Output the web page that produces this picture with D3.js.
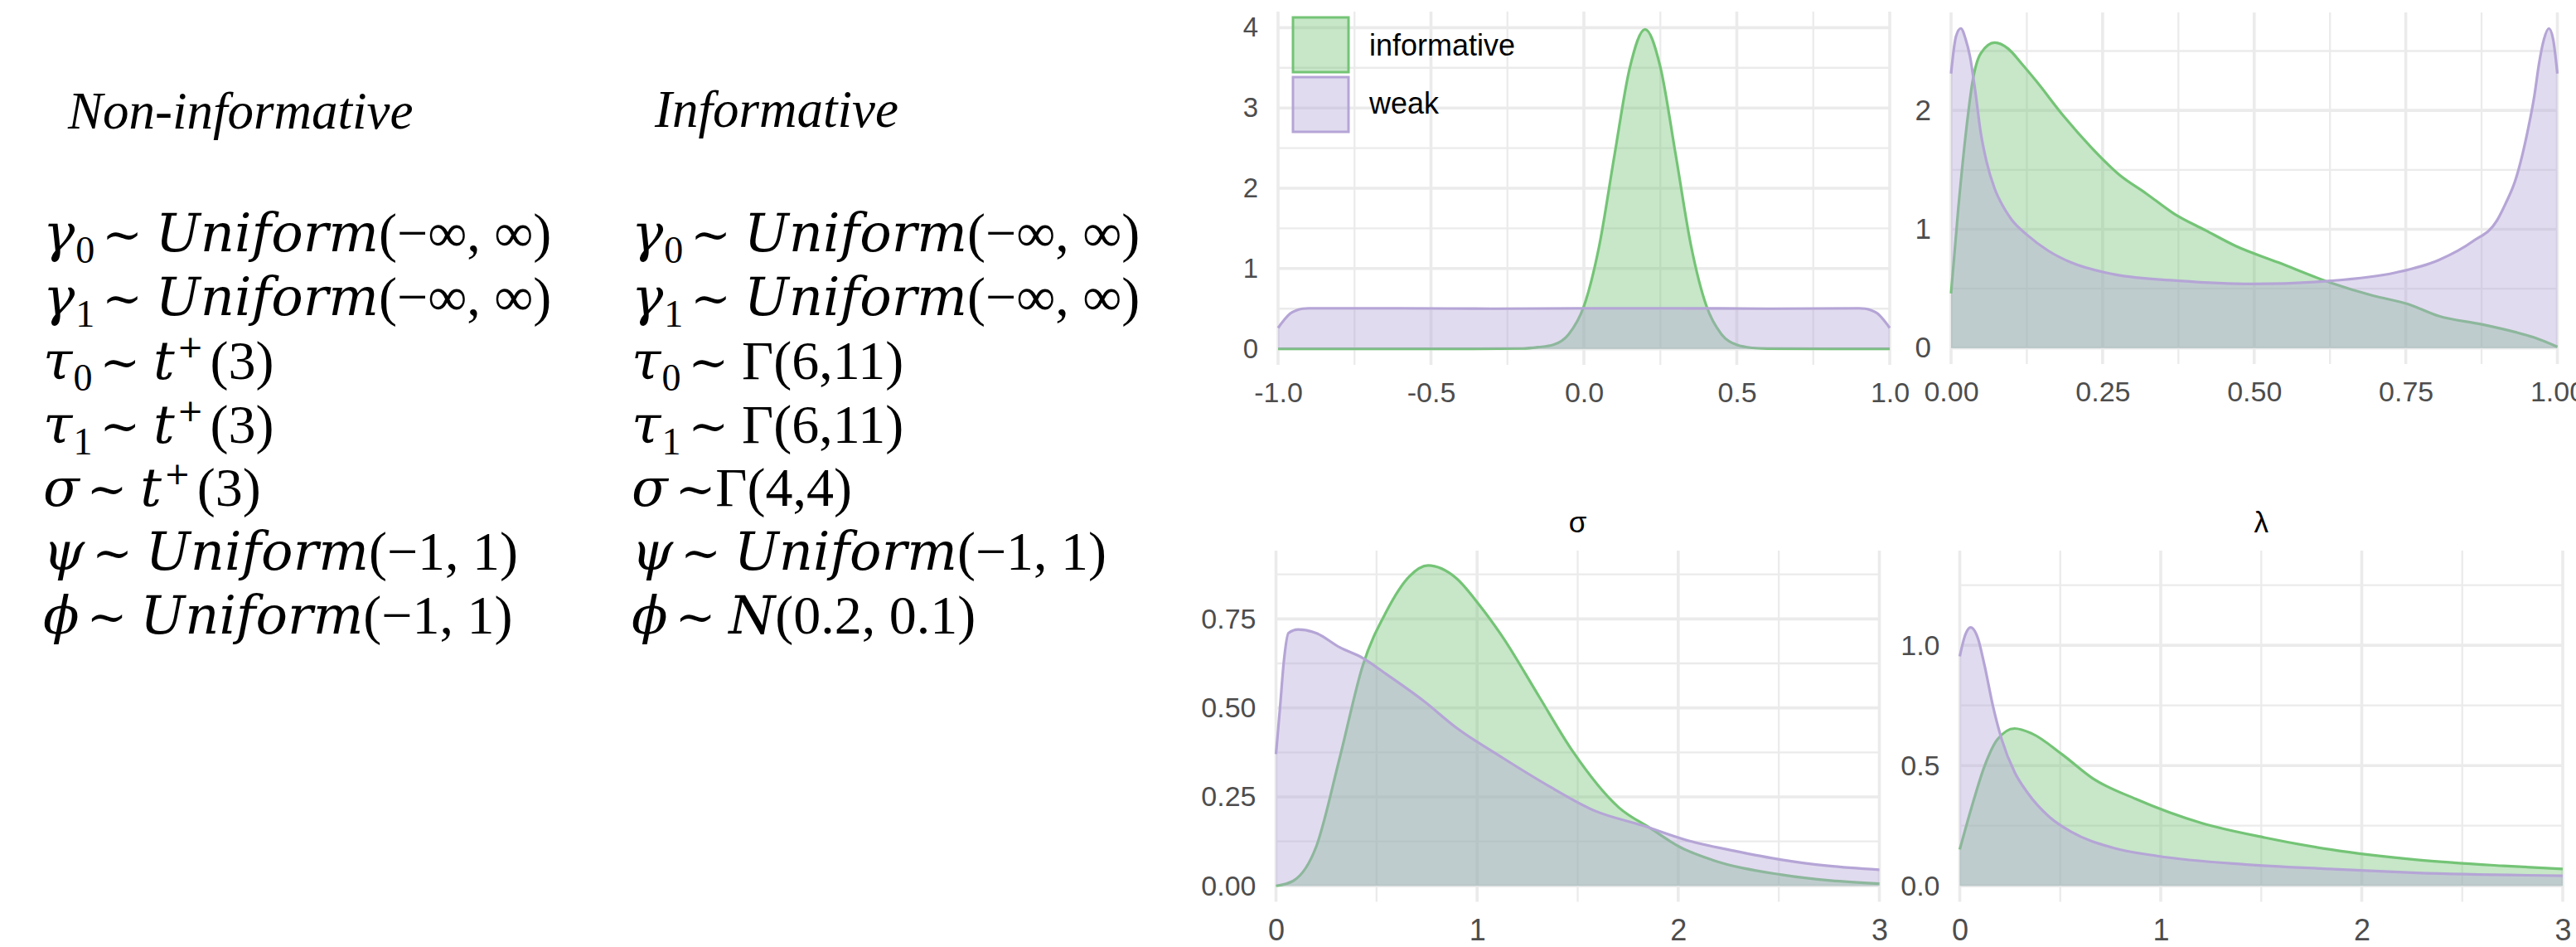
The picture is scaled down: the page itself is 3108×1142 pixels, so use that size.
<!DOCTYPE html>
<html>
<head>
<meta charset="utf-8">
<title>prior densities</title>
<script src="https://cdn.jsdelivr.net/npm/d3@7"></script>
<style>
  body {margin: 0; background: #fff;}
  svg {display: block;}
  .hd {font-family: "Liberation Serif", serif; font-style: italic; font-size: 63px;}
  .mi, .i {font-family: "DejaVu Serif", serif; font-style: italic; font-size: 64px;}
  .n {font-family: "Liberation Serif", serif; font-size: 66px;}
  .op {font-family: "DejaVu Serif", serif; font-size: 58px;}
  .sub {font-family: "Liberation Serif", serif; font-size: 46px;}
  .sup {font-family: "DejaVu Sans", sans-serif; font-size: 38px;}
  .lab {font-family: "Liberation Sans", Arial, sans-serif;}
</style>
</head>
<body>
<div id="chart"></div>
<script>
// ---- data ----
var seriesNames = ["informative", "weak"];

// top left panel (phi)
var phiInfX = [-1, -0.4, -0.2, -0.15, -0.1, -0.05, 0, 0.05, 0.1, 0.15, 0.2, 0.25, 0.3, 0.35, 0.4, 0.45, 0.5, 0.55, 0.6, 0.8, 1];
var phiInfY = [0, 0, 0.004, 0.02, 0.05, 0.18, 0.53, 1.28, 2.41, 3.5, 3.98, 3.51, 2.42, 1.29, 0.54, 0.18, 0.05, 0.012, 0.003, 0, 0];
var phiWeakX = [-1, -0.98, -0.96, -0.94, -0.92, -0.9, -0.6, -0.3, 0, 0.3, 0.6, 0.9, 0.92, 0.94, 0.96, 0.98, 1];
var phiWeakY = [0.26, 0.36, 0.44, 0.48, 0.5, 0.505, 0.505, 0.5, 0.505, 0.505, 0.5, 0.505, 0.5, 0.48, 0.44, 0.36, 0.26];

// top right panel (0..1)
var unitInfX = [0, 0.012, 0.026, 0.035, 0.049, 0.072, 0.094, 0.117, 0.14, 0.186, 0.231, 0.277, 0.322, 0.368, 0.42, 0.469, 0.54, 0.626, 0.697, 0.754, 0.804, 0.875, 0.93, 0.961, 1.0];
var unitInfY = [0.46, 1.18, 1.88, 2.23, 2.48, 2.57, 2.52, 2.39, 2.25, 1.95, 1.69, 1.46, 1.30, 1.13, 0.99, 0.86, 0.72, 0.55, 0.44, 0.37, 0.27, 0.20, 0.135, 0.09, 0.01];
var unitWeakX = [0, 0.008, 0.016, 0.024, 0.031, 0.04, 0.049, 0.058, 0.072, 0.085, 0.1, 0.126, 0.16, 0.198, 0.269, 0.376, 0.497, 0.626, 0.733, 0.804, 0.861, 0.9, 0.915, 0.93, 0.942, 0.952, 0.962, 0.97, 0.978, 0.986, 0.993, 1.0];
var unitWeakY = [2.31, 2.62, 2.69, 2.6, 2.46, 2.16, 1.81, 1.58, 1.34, 1.2, 1.08, 0.95, 0.82, 0.72, 0.62, 0.566, 0.54, 0.566, 0.635, 0.74, 0.90, 1.07, 1.22, 1.40, 1.62, 1.85, 2.12, 2.40, 2.6, 2.69, 2.6, 2.31];

// bottom left panel (sigma)
var sigInfX = [0, 0.086, 0.2, 0.317, 0.432, 0.548, 0.664, 0.756, 0.895, 1.01, 1.126, 1.31, 1.473, 1.705, 1.867, 2.005, 2.168, 2.515, 3.0];
var sigInfY = [0, 0.014, 0.11, 0.36, 0.62, 0.77, 0.87, 0.90, 0.865, 0.79, 0.70, 0.53, 0.38, 0.22, 0.16, 0.11, 0.073, 0.031, 0.006];
var sigWeakX = [0, 0.02, 0.039, 0.062, 0.109, 0.2, 0.317, 0.432, 0.548, 0.733, 0.895, 1.126, 1.358, 1.589, 1.82, 2.05, 2.28, 2.515, 2.746, 3.0];
var sigWeakY = [0.37, 0.50, 0.63, 0.71, 0.72, 0.71, 0.67, 0.64, 0.595, 0.52, 0.445, 0.36, 0.28, 0.21, 0.17, 0.127, 0.098, 0.073, 0.056, 0.045];

// bottom right panel (lambda)
var lamInfX = [0, 0.058, 0.123, 0.187, 0.273, 0.359, 0.51, 0.661, 0.876, 1.199, 1.521, 1.844, 2.275, 2.705, 3.0];
var lamInfY = [0.151, 0.324, 0.497, 0.608, 0.654, 0.633, 0.546, 0.447, 0.361, 0.262, 0.200, 0.151, 0.108, 0.083, 0.070];
var lamWeakX = [0, 0.026, 0.054, 0.09, 0.123, 0.166, 0.209, 0.273, 0.338, 0.445, 0.553, 0.768, 0.983, 1.414, 1.844, 2.275, 3.0];
var lamWeakY = [0.954, 1.04, 1.074, 1.03, 0.917, 0.744, 0.608, 0.472, 0.386, 0.287, 0.225, 0.157, 0.124, 0.089, 0.070, 0.054, 0.042];

// ticks
var phiXTicks = [-1, -0.5, 0, 0.5, 1], phiXLabels = ["-1.0", "-0.5", "0.0", "0.5", "1.0"], phiXMinor = [-0.75, -0.25, 0.25, 0.75];
var phiYTicks = [0, 1, 2, 3, 4], phiYLabels = ["0", "1", "2", "3", "4"], phiYMinor = [0.5, 1.5, 2.5, 3.5];
var unitXTicks = [0, 0.25, 0.5, 0.75, 1], unitXLabels = ["0.00", "0.25", "0.50", "0.75", "1.00"], unitXMinor = [0.125, 0.375, 0.625, 0.875];
var unitYTicks = [0, 1, 2], unitYLabels = ["0", "1", "2"], unitYMinor = [0.5, 1.5, 2.5];
var posXTicks = [0, 1, 2, 3], posXLabels = ["0", "1", "2", "3"], posXMinor = [0.5, 1.5, 2.5];
var sigYTicks = [0, 0.25, 0.5, 0.75], sigYLabels = ["0.00", "0.25", "0.50", "0.75"], sigYMinor = [0.125, 0.375, 0.625, 0.875];
var lamYTicks = [0, 0.5, 1], lamYLabels = ["0.0", "0.5", "1.0"], lamYMinor = [0.25, 0.75, 1.25];

// prior table
var headNonInf = "Non-informative", headInf = "Informative";
var priorSymbols = ["γ", "γ", "τ", "τ", "σ", "ψ", "ϕ"];
var priorSubs = ["0", "1", "0", "1", "", "", ""];
var nonInfPriors = [
  [["Uniform", "i"], ["(−∞, ∞)", "n"]],
  [["Uniform", "i"], ["(−∞, ∞)", "n"]],
  [["t", "i"], ["+", "sup"], ["(3)", "n"]],
  [["t", "i"], ["+", "sup"], ["(3)", "n"]],
  [["t", "i"], ["+", "sup"], ["(3)", "n"]],
  [["Uniform", "i"], ["(−1, 1)", "n"]],
  [["Uniform", "i"], ["(−1, 1)", "n"]]
];
var infPriors = [
  [["Uniform", "i"], ["(−∞, ∞)", "n"]],
  [["Uniform", "i"], ["(−∞, ∞)", "n"]],
  [["Γ(6,11)", "n"]],
  [["Γ(6,11)", "n"]],
  [["Γ(4,4)", "n"]],
  [["Uniform", "i"], ["(−1, 1)", "n"]],
  [["N", "i"], ["(0.2, 0.1)", "n"]]
];
var infTight = [0, 0, 0, 0, 1, 0, 0];

var colors = {informative: "#74c476", weak: "#b5a5d6"};

var svg = d3.select("#chart").append("svg").attr("width", 3108).attr("height", 1142);
svg.append("rect").attr("width", 3108).attr("height", 1142).attr("fill", "#fff");

// ---- left: prior table ----
svg.append("text").attr("class", "hd").attr("x", 82).attr("y", 155).text(headNonInf);
svg.append("text").attr("class", "hd").attr("x", 790).attr("y", 153).text(headInf);

function priorLine(px, py, sym, sub, segs, tight) {
  var t = svg.append("text").attr("x", px).attr("y", py).attr("fill", "#000");
  t.append("tspan").attr("class", "mi").text(sym);
  if (sub) t.append("tspan").attr("class", "sub").attr("dx", 1).attr("dy", 14).text(sub);
  t.append("tspan").attr("class", "op").attr("dx", 9).attr("dy", sub ? -14 : 0).text("~");
  var lift = 0;
  segs.forEach(function (s, k) {
    var ts = t.append("tspan").attr("class", s[1]).text(s[0]);
    if (s[1] == "sup") { ts.attr("dy", -26).attr("dx", 3); lift = 26; }
    else if (lift) { ts.attr("dy", lift).attr("dx", 8); lift = 0; }
    if (k == 0) ts.attr("dx", tight ? 0 : 16);
  });
}

var lineY = d3.scaleLinear().domain([0, 6]).range([303, 764]);
priorSymbols.forEach(function (s, i) {
  priorLine(52, lineY(i), s, priorSubs[i], nonInfPriors[i], 0);
  priorLine(762, lineY(i), s, priorSubs[i], infPriors[i], infTight[i]);
});

// ---- right: density panels ----
var panels = [
  {box: [1542, 2280, 14, 440], xDom: [-1, 1], yDom: [-0.2, 4.2],
   xT: phiXTicks, xL: phiXLabels, xM: phiXMinor, yT: phiYTicks, yL: phiYLabels, yM: phiYMinor,
   inf: [phiInfX, phiInfY], weak: [phiWeakX, phiWeakY], xFont: 34, yFont: 33, legend: true},
  {box: [2354, 3085.5, 15, 439], xDom: [0, 1], yDom: [-0.1345, 2.8245],
   xT: unitXTicks, xL: unitXLabels, xM: unitXMinor, yT: unitYTicks, yL: unitYLabels, yM: unitYMinor,
   inf: [unitInfX, unitInfY], weak: [unitWeakX, unitWeakY], xFont: 34, yFont: 35},
  {box: [1539.5, 2267.5, 664, 1087.5], xDom: [0, 3], yDom: [-0.04485, 0.94185],
   xT: posXTicks, xL: posXLabels, xM: posXMinor, yT: sigYTicks, yL: sigYLabels, yM: sigYMinor,
   inf: [sigInfX, sigInfY], weak: [sigWeakX, sigWeakY], xFont: 36, yFont: 34, title: "σ"},
  {box: [2364.5, 3092, 664, 1087.5], xDom: [0, 3], yDom: [-0.06635, 1.39335],
   xT: posXTicks, xL: posXLabels, xM: posXMinor, yT: lamYTicks, yL: lamYLabels, yM: lamYMinor,
   inf: [lamInfX, lamInfY], weak: [lamWeakX, lamWeakY], xFont: 36, yFont: 34, title: "λ"}
];

function drawPanel(p) {
  var x = d3.scaleLinear().domain(p.xDom).range([p.box[0], p.box[1]]);
  var y = d3.scaleLinear().domain(p.yDom).range([p.box[3], p.box[2]]);
  var g = svg.append("g");

  function hLines(vals, w) {
    g.append("g").selectAll("line").data(vals).join("line")
      .attr("x1", p.box[0]).attr("x2", p.box[1])
      .attr("y1", d => y(d)).attr("y2", d => y(d))
      .attr("stroke", "#ebebeb").attr("stroke-width", w);
  }
  function vLines(vals, w) {
    g.append("g").selectAll("line").data(vals).join("line")
      .attr("y1", p.box[2]).attr("y2", p.box[3])
      .attr("x1", d => x(d)).attr("x2", d => x(d))
      .attr("stroke", "#ebebeb").attr("stroke-width", w);
  }
  hLines(p.yM, 2.3); vLines(p.xM, 2.3);
  hLines(p.yT, 3.6); vLines(p.xT, 3.6);

  var area = d3.area().x(d => x(d[0])).y0(y(0)).y1(d => y(d[1])).curve(d3.curveMonotoneX);
  var line = d3.line().x(d => x(d[0])).y(d => y(d[1])).curve(d3.curveMonotoneX);

  [["informative", p.inf], ["weak", p.weak]].forEach(function (s) {
    var pts = d3.zip(s[1][0], s[1][1]);
    g.append("path").datum(pts).attr("d", area)
      .attr("fill", colors[s[0]]).attr("fill-opacity", 0.4);
    g.append("path").datum(pts).attr("d", line)
      .attr("fill", "none").attr("stroke", colors[s[0]]).attr("stroke-width", 3.2);
  });

  var ax = g.append("g").attr("class", "lab").attr("transform", "translate(0," + p.box[3] + ")")
    .call(d3.axisBottom(x).tickValues(p.xT).tickFormat((d, i) => p.xL[i]).tickSize(0).tickPadding(21));
  ax.select(".domain").remove();
  ax.attr("font-size", p.xFont).attr("font-family", null).attr("color", "#4d4d4d");

  var ay = g.append("g").attr("class", "lab").attr("transform", "translate(" + p.box[0] + ",0)")
    .call(d3.axisLeft(y).tickValues(p.yT).tickFormat((d, i) => p.yL[i]).tickSize(0).tickPadding(24));
  ay.select(".domain").remove();
  ay.attr("font-size", p.yFont).attr("font-family", null).attr("color", "#4d4d4d");

  if (p.title) {
    g.append("text").attr("class", "lab").attr("x", (p.box[0] + p.box[1]) / 2).attr("y", 642)
      .attr("text-anchor", "middle").attr("font-size", 35).attr("fill", "#000").text(p.title);
  }

  if (p.legend) {
    var lg = g.append("g").attr("class", "lab");
    seriesNames.forEach(function (nm, i) {
      lg.append("rect").attr("x", 1560).attr("y", 21 + i * 72).attr("width", 67).attr("height", 66)
        .attr("fill", colors[nm]).attr("fill-opacity", 0.4)
        .attr("stroke", colors[nm]).attr("stroke-width", 3);
      lg.append("text").attr("x", 1652).attr("y", 67 + i * 70).attr("font-size", 36)
        .attr("fill", "#000").text(nm);
    });
  }
}

panels.forEach(drawPanel);
</script>
</body>
</html>
